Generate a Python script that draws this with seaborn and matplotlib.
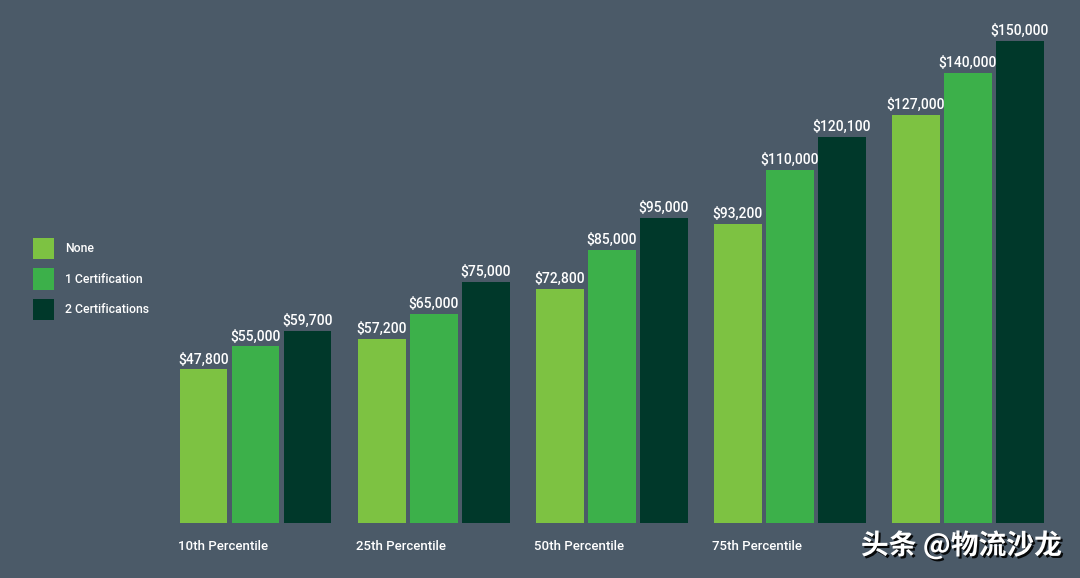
import pandas as pd
import matplotlib.pyplot as plt
import matplotlib.patheffects as pe
import seaborn as sns

# data
percentiles = ["10th Percentile", "25th Percentile", "50th Percentile",
               "75th Percentile", "90th Percentile"]
none_vals = [47800, 57200, 72800, 93200, 127000]
one_cert = [55000, 65000, 85000, 110000, 140000]
two_cert = [59700, 75000, 95000, 120100, 150000]
levels = ["None", "1 Certification", "2 Certifications"]

df = pd.DataFrame({
    "Percentile": percentiles * 3,
    "Level": [levels[0]] * 5 + [levels[1]] * 5 + [levels[2]] * 5,
    "Salary": none_vals + one_cert + two_cert,
})

bg = "#4b5a68"
colors = ["#7dc242", "#3cb04a", "#00382a"]

sns.set_style("white")
plt.rcParams["font.family"] = ["Roboto", "DejaVu Sans"]

fig = plt.figure(figsize=(10.8, 5.78), dpi=100, facecolor=bg)
ax = fig.add_axes([0, 0.0952, 1, 0.9048])
ax.set_facecolor(bg)

group_w = 0.876
sns.barplot(data=df, x="Percentile", y="Salary", hue="Level", order=percentiles,
            hue_order=levels, palette=colors, width=group_w, gap=0.08,
            saturation=1, linewidth=0, ax=ax)

for cont in ax.containers:
    ax.bar_label(cont, labels=[f"${v:,.0f}" for v in cont.datavalues],
                 padding=2, color="white", fontsize=10, fontweight="medium")

ax.set_xlim(-1.4346, 4.629)
ax.set_ylim(0, 162760)
ax.set_xticks([])
ax.set_yticks([])
ax.set_xlabel("")
ax.set_ylabel("")
for s in ax.spines.values():
    s.set_visible(False)

# category labels, left aligned under each group (last one sits under the watermark)
for i, name in enumerate(percentiles[:4]):
    ax.text(i - group_w / 2, -0.045, name, transform=ax.get_xaxis_transform(),
            ha="left", va="center", color="white", fontsize=9.5,
            fontweight="medium")

leg = ax.legend(loc="upper left", bbox_to_anchor=(0.0306, 0.545), frameon=False,
                fontsize=8.8, handlelength=1.75, handleheight=2.3,
                labelspacing=0.75, handletextpad=0.85, borderpad=0,
                borderaxespad=0)
for t in leg.get_texts():
    t.set_color("white")
    t.set_fontweight("medium")
for h in leg.legend_handles:
    h.set_linewidth(0)

fig.text(0.983, 0.057, "头条 @物流沙龙", ha="right", va="center", color="white",
         fontsize=20, fontweight="bold",
         family=["Noto Sans CJK SC", "DejaVu Sans"],
         path_effects=[pe.withSimplePatchShadow(offset=(1.5, -1.5),
                                                shadow_rgbFace="black", alpha=0.9)])

fig.savefig("out.png", dpi=100, facecolor=bg)
